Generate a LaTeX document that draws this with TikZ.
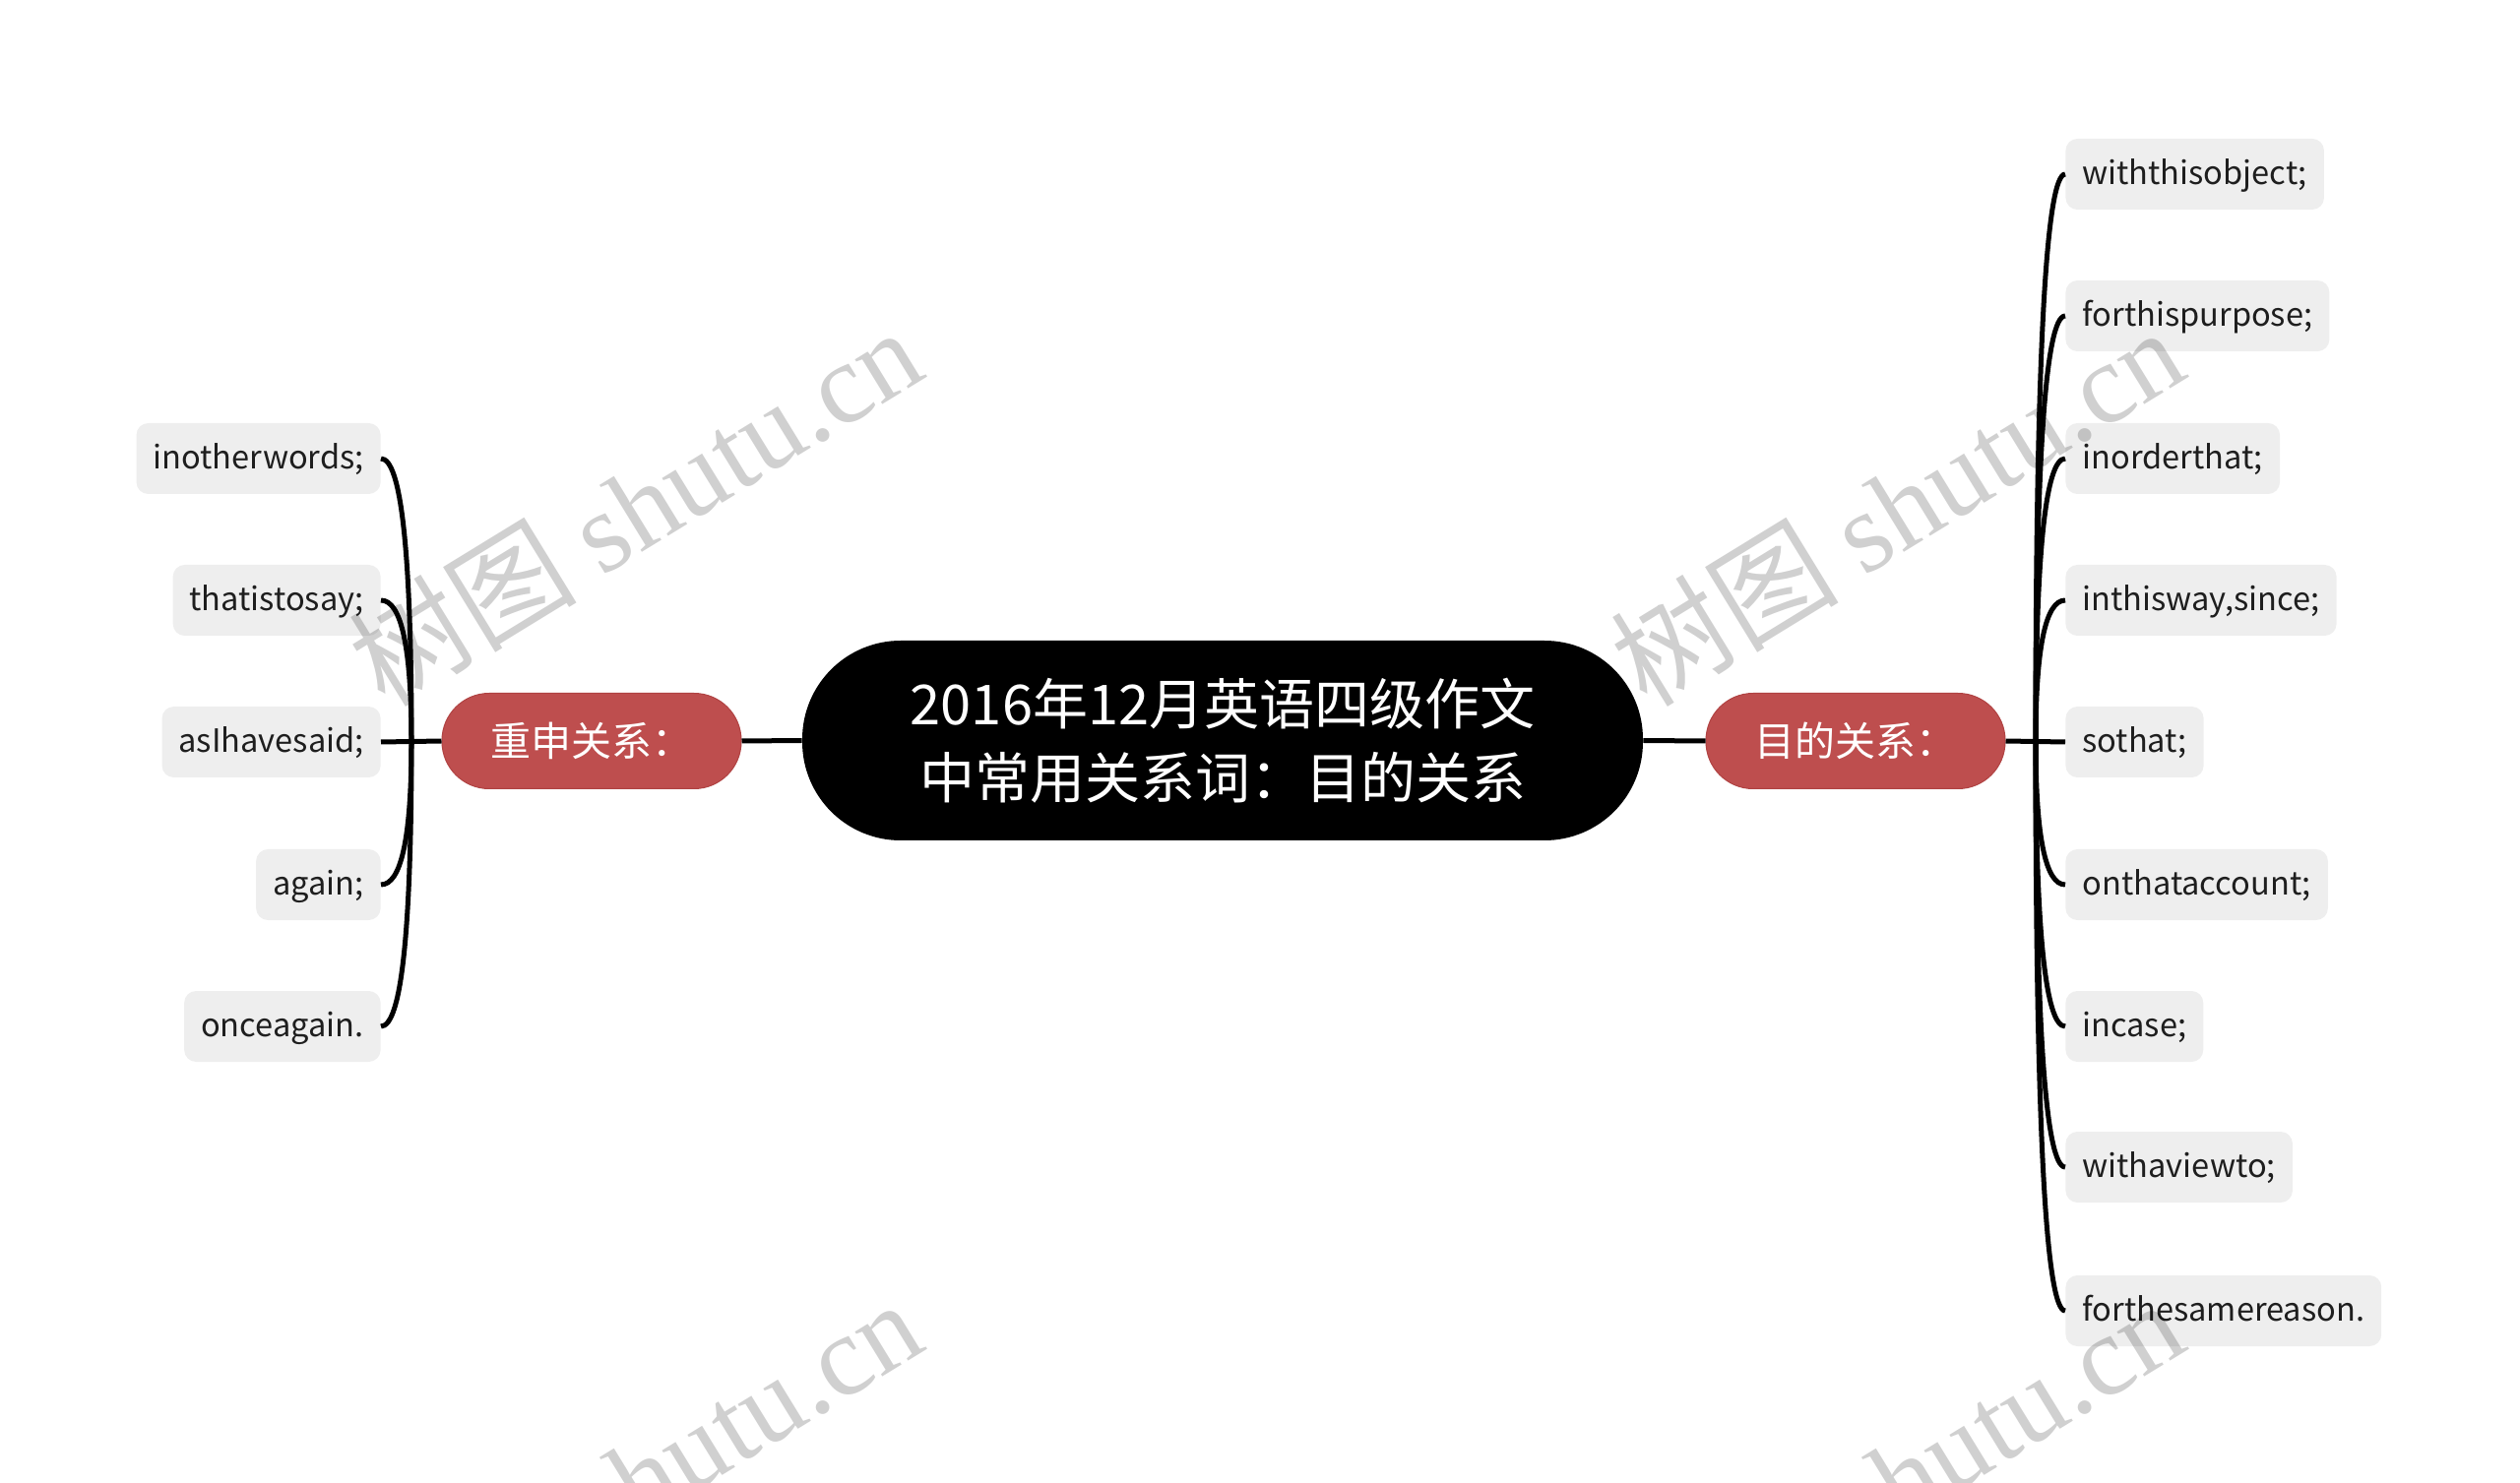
\documentclass[tikz,border=0pt]{standalone}
\usepackage{fontspec}
\setmainfont{Noto Sans CJK SC}
\newfontfamily\wmlatin{Liberation Serif}
\newfontfamily\wmcjk{Noto Sans CJK SC}
\usetikzlibrary{calc}
\definecolor{leaffill}{RGB}{238,238,238}
\definecolor{subred}{RGB}{190,78,78}
\definecolor{subedge}{RGB}{176,66,66}
\definecolor{leaftext}{RGB}{30,30,30}
\definecolor{wmgray}{RGB}{208,208,208}
\tikzset{
  centerbox/.style={fill=black, text=white, rounded corners=50pt, minimum width=427pt,
    minimum height=101.5pt, align=center, inner sep=0pt,
    font=\fontsize{28}{37.5}\selectfont},
  subbox/.style={fill=subred, draw=subedge, line width=0.5pt, text=white, rounded corners=24pt,
    minimum width=152pt, minimum height=48.5pt, inner sep=0pt,
    font=\fontsize{20.5}{24}\selectfont},
  leafbox/.style={fill=leaffill, text=leaftext, rounded corners=6pt, minimum height=36pt,
    inner xsep=8.5pt, inner ysep=0pt, text height=14pt, text depth=3.5pt,
    font=\fontsize{16.3}{20}\selectfont},
  link/.style={draw=black, line width=2.5pt},
  wmark/.style={text=wmgray, rotate=31.5, inner sep=0pt},
}
\begin{document}
\begin{tikzpicture}[x=0.5pt,y=-0.5pt]
\useasboundingbox (0,0) rectangle (2560,1507);
% nodes
\node[centerbox] (c) at (1242,752.5) {2016年12月英语四级作文\\中常用关系词：目的关系};
\node[subbox] (sl) at (601,753) {重申关系：};
\node[subbox] (sr) at (1885,753) {目的关系：};
% left leaves
\node[leafbox, anchor=east] (l1) at (387,466) {inotherwords;};
\node[leafbox, anchor=east] (l2) at (387,610) {thatistosay;};
\node[leafbox, anchor=east] (l3) at (387,754) {asIhavesaid;};
\node[leafbox, anchor=east] (l4) at (387,899) {again;};
\node[leafbox, anchor=east] (l5) at (387,1043) {onceagain.};
% right leaves
\node[leafbox, anchor=west] (r1) at (2098,177) {withthisobject;};
\node[leafbox, anchor=west] (r2) at (2098,321) {forthispurpose;};
\node[leafbox, anchor=west] (r3) at (2098,466) {inorderthat;};
\node[leafbox, anchor=west] (r4) at (2098,610) {inthisway,since;};
\node[leafbox, anchor=west] (r5) at (2098,754) {sothat;};
\node[leafbox, anchor=west] (r6) at (2098,899) {onthataccount;};
\node[leafbox, anchor=west] (r7) at (2098,1043) {incase;};
\node[leafbox, anchor=west] (r8) at (2098,1186) {withaviewto;};
\node[leafbox, anchor=west] (r9) at (2098,1332) {forthesamereason.};
% junctions
\coordinate (jl) at (418,754);
\coordinate (jr) at (2068,754);
% connectors
\draw[link] (c.west) -- (sl.east);
\draw[link] (c.east) -- (sr.west);
\draw[link] (sl.west) -- (l3.east);
\draw[link] (sr.east) -- (r5.west);
\foreach \n in {l1,l2,l4,l5}{
  \draw[link] (jl) .. controls ($(jl)!0.6667!(jl|-\n.east)$) and ($(\n.east)!0.6667!(jl|-\n.east)$) .. (\n.east);
}
\foreach \n in {r1,r2,r3,r4,r6,r7,r8,r9}{
  \draw[link] (jr) .. controls ($(jr)!0.6667!(jr|-\n.west)$) and ($(\n.west)!0.6667!(jr|-\n.west)$) .. (\n.west);
}
% watermarks
\begin{scope}[blend mode=multiply]
\foreach \p/\q in {wa/{(645,514)}, wb/{(1927,514)}, wc/{(645,1502)}, wd/{(1927,1502)}}{
  \node[wmark, font=\fontsize{58}{58}\selectfont] (\p) at \q {\wmcjk 树图\ \wmlatin shutu.cn};
}
\end{scope}
\end{tikzpicture}
\end{document}
